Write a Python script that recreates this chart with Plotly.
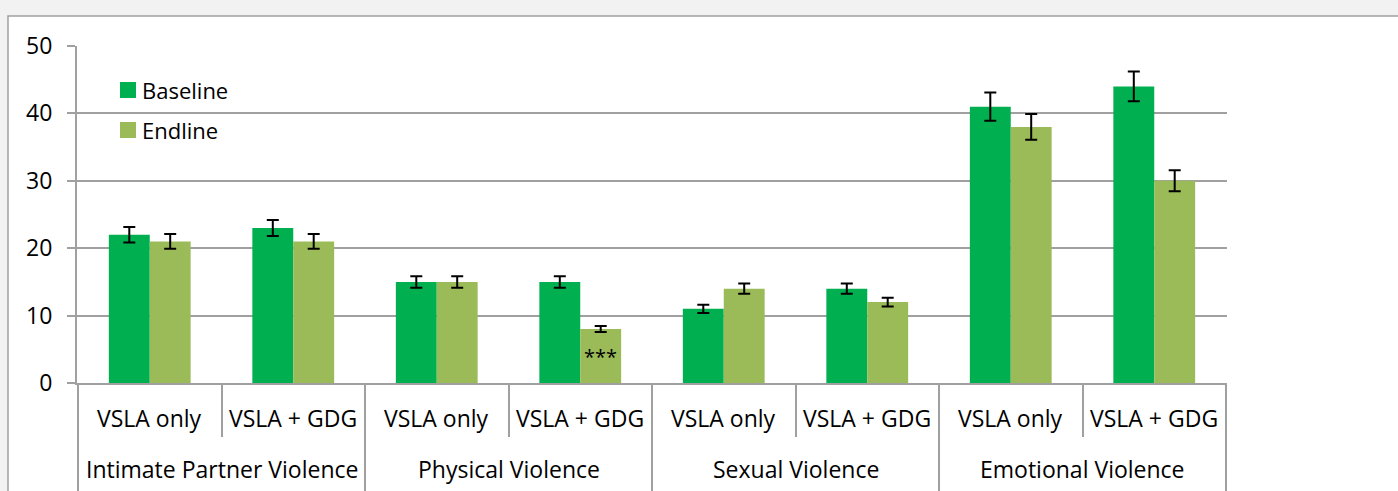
import plotly.graph_objects as go

outer = ["Intimate Partner Violence", "Intimate Partner Violence",
         "Physical Violence", "Physical Violence",
         "Sexual Violence", "Sexual Violence",
         "Emotional Violence", "Emotional Violence"]
inner = ["VSLA only", "VSLA + GDG"] * 4
groups = ["Intimate Partner Violence", "Physical Violence", "Sexual Violence", "Emotional Violence"]
series_names = ["Baseline", "Endline"]
baseline = [22, 23, 15, 15, 11, 14, 41, 44]
endline = [21, 21, 15, 8, 14, 12, 38, 30]
baseline_err = [1.15, 1.2, 0.85, 0.85, 0.6, 0.75, 2.1, 2.2]
endline_err = [1.1, 1.1, 0.85, 0.45, 0.75, 0.65, 1.9, 1.55]

FONT = "Open Sans"
GRAY = "#a0a0a0"
C_BASE = "#00B050"
C_END = "#9BBB59"
FS = 22
FS_CAT = 23

L, R, T, B = 77, 171, 46, 108
W, H = 1398, 491
pw, ph = W - L - R, H - T - B


def px_x(p):
    return (p - L) / pw


def px_y(p):
    return (H - B - p) / ph


fig = go.Figure()
fig.add_trace(go.Bar(name=series_names[0], x=[outer, inner], y=baseline,
                     marker=dict(color=C_BASE, line=dict(width=0)),
                     error_y=dict(type="data", array=baseline_err, color="black", thickness=2, width=6),
                     showlegend=False))
fig.add_trace(go.Bar(name=series_names[1], x=[outer, inner], y=endline,
                     marker=dict(color=C_END, line=dict(width=0)),
                     error_y=dict(type="data", array=endline_err, color="black", thickness=2, width=6),
                     showlegend=False))

# chart box
fig.add_shape(type="rect", xref="paper", yref="paper", layer="below",
              x0=px_x(8), x1=px_x(1450), y0=px_y(540), y1=px_y(16),
              fillcolor="white", line=dict(color=GRAY, width=1.5))

# manual legend
for name, col, cy in [(series_names[0], C_BASE, 90), (series_names[1], C_END, 130)]:
    fig.add_shape(type="rect", xref="paper", yref="paper",
                  x0=px_x(120), x1=px_x(136), y0=px_y(cy + 8), y1=px_y(cy - 8),
                  fillcolor=col, line=dict(width=0))
    fig.add_annotation(xref="paper", yref="paper", x=px_x(140), y=px_y(cy),
                       xanchor="left", yanchor="middle", text=name, showarrow=False,
                       font=dict(family=FONT, size=FS, color="black"))

# inner category labels
for i, lab in enumerate(inner):
    fig.add_annotation(xref="x", yref="paper", x=i, y=px_y(418), text=lab,
                       xanchor="center", yanchor="middle", showarrow=False,
                       font=dict(family=FONT, size=FS_CAT, color="black"))
# outer category labels
for k, g in enumerate(groups):
    fig.add_annotation(xref="x", yref="paper", x=2 * k + 0.5, y=px_y(469), text=g,
                       xanchor="center", yanchor="middle", showarrow=False,
                       font=dict(family=FONT, size=FS_CAT, color="black"))
# outer dividers
for k in range(len(groups) + 1):
    fig.add_shape(type="line", xref="x", yref="paper", x0=2 * k - 0.5, x1=2 * k - 0.5,
                  y0=0, y1=px_y(491), line=dict(color=GRAY, width=2))

fig.add_annotation(x=3, y=4, xref="x", yref="y", text="***", showarrow=False,
                   xshift=20.5, font=dict(family=FONT, size=20, color="black"))

fig.update_layout(
    width=W, height=H,
    margin=dict(l=L, r=R, t=T, b=B, autoexpand=False),
    paper_bgcolor="#f2f2f2", plot_bgcolor="rgba(0,0,0,0)",
    barmode="group", bargap=0.43, bargroupgap=0,
    font=dict(family=FONT, size=FS, color="black"),
    showlegend=False,
)
fig.update_yaxes(range=[0, 50], tickvals=[0, 10, 20, 30, 40, 50],
                 showgrid=True, gridcolor=GRAY, gridwidth=2,
                 showline=True, linecolor=GRAY, linewidth=2,
                 ticks="outside", ticklen=8, tickcolor=GRAY, tickwidth=2,
                 ticklabelstandoff=10,
                 zeroline=False, tickfont=dict(size=FS_CAT), automargin=False)
fig.update_xaxes(type="multicategory", showline=True, linecolor=GRAY, linewidth=2,
                 ticks="outside", tickson="boundaries", ticklen=52, tickcolor=GRAY, tickwidth=2,
                 showdividers=False, showticklabels=False, automargin=False)

fig.write_html("out.html", config={"displayModeBar": False},
               post_script="document.body.style.margin='0px';document.body.style.background='#f2f2f2';")
